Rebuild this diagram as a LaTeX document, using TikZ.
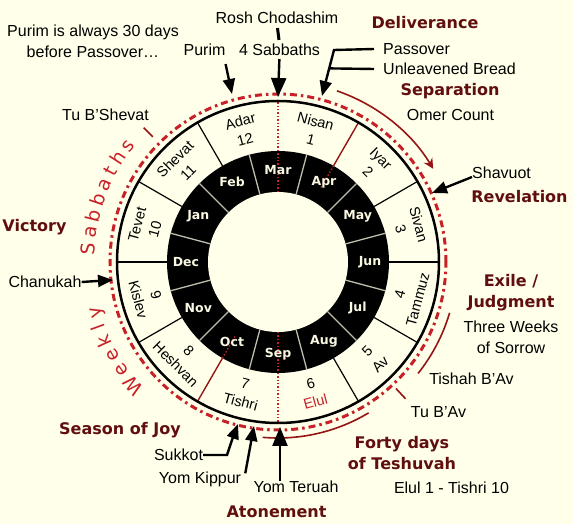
\documentclass[tikz,border=0pt]{standalone}
\usepackage{fontspec}
\setmainfont{Liberation Sans}
\newfontfamily\headfont{DejaVu Sans}
\usetikzlibrary{arrows.meta,calc}
\definecolor{bgcream}{RGB}{255,255,234}
\definecolor{titlered}{RGB}{96,14,14}
\definecolor{arcred}{RGB}{150,20,20}
\definecolor{dotred}{RGB}{200,32,40}
\definecolor{ringgray}{RGB}{190,190,175}
\definecolor{moncream}{RGB}{250,248,225}

\begin{document}
\begin{tikzpicture}[x=1pt,y=1pt,
  lbl/.style={font=\fontsize{16}{21}\selectfont,inner sep=0pt,align=center},
  ttl/.style={font=\headfont\bfseries\fontsize{16}{21}\selectfont,text=titlered,inner sep=0pt,align=center},
  hmon/.style={font=\fontsize{14.5}{18.5}\selectfont,inner sep=0pt,align=center},
  gmon/.style={font=\headfont\bfseries\fontsize{12.5}{14}\selectfont,text=moncream,inner sep=0pt},
  wk/.style={font=\headfont\fontsize{19}{19}\selectfont,text=dotred,inner sep=0pt,anchor=base},
  arr/.style={-{Triangle[length=15pt,width=12pt]},line width=2.4pt},
  bigarr/.style={-{Triangle[length=19pt,width=15pt]},line width=2.4pt},
  redarc/.style={arcred,line width=1.6pt}]

\fill[bgcream] (-278,-262) rectangle (295,262);
\useasboundingbox (-278,-262) rectangle (295,262);

% Gregorian ring
\fill[black] (0,0) circle (111);
\fill[bgcream] (0,0) circle (70);
\foreach \a in {15,45,...,345}
  \draw[ringgray,line width=1.3pt] (\a:70) -- (\a:111);

% Hebrew month ring
\foreach \a in {0,30,120,150,180,210,300,330}
  \draw[line width=1.2pt] (\a:111) -- (\a:161);
\draw[arcred,line width=1.4pt] (60:111) -- (60:161) (240:111) -- (240:161);
\draw[dotred,line width=1.4pt,dotted] (60:86) -- (60:111) (240:86) -- (240:111);
\draw[dotred,line width=1.4pt,dotted] (90:70) -- (90:161) (270:70) -- (270:161);
\draw[line width=2.5pt] (0,0) circle (161);
\draw[dotred,line width=3pt,dash pattern=on 7pt off 4pt on 2.5pt off 4pt] (0,0) circle (168);

% Month names
\foreach \a/\nm/\nr in {75/Nisan/1,45/Iyar/2,15/Sivan/3,105/Adar/12,135/Shevat/11,165/Tevet/10}
  \node[hmon,rotate=\a-90] (m\nr) at (\a:136.5) {\nm\\\nr};
\foreach \a/\nm/\nr in {-15/Tammuz/4,-45/Av/5,-105/Tishri/7,-135/Heshvan/8,-165/Kislev/9}
  \node[hmon,rotate=\a+90] (m\nr) at (\a:135.5) {\nr\\\nm};
\node[hmon,rotate=15] (m6) at (-75:135.5) {6\\\textcolor{dotred}{Elul}};

\foreach \a/\mn in {90/Mar,60/Apr,30/May,0/Jun,-30/Jul,-60/Aug,-90/Sep,
  -120/Oct,-150/Nov,180/Dec,150/Jan,120/Feb}
  \node[gmon] (g\mn) at (\a:92) {\mn};

% Weekly Sabbaths
\foreach \a/\ch [count=\i] in {220.5/W,214.6/e,209.4/e,204.4/k,200/l,195.6/y,
  176/S,171/a,166/b,161/b,156/a,151.5/t,147/h,142.3/s}
  \node[wk,rotate=\a-90] (wk\i) at (\a:184) {\ch};
\draw[redarc] (135:177) -- (135:190);

% Seasons
\draw[redarc,-{Stealth[length=10pt,width=10pt]}] (71:181) arc[start angle=71,end angle=31,radius=181];
\draw[redarc] (-16.5:179) arc[start angle=-16.5,end angle=-38.5,radius=179];
\draw[redarc] (-47:173) -- (-47:187);
\draw[redarc] (-95:176) arc[start angle=-95,end angle=-59,radius=176];

% Labels
\node[lbl] (purnote) at (-185,220.5) {Purim is always 30 days\\before Passover\dots};
\node[lbl] (rosh) at (-1,244) {Rosh Chodashim};
\node[lbl] (sab) at (1.5,212) {4 Sabbaths};
\node[lbl] (purim) at (-73.5,212) {Purim};
\node[ttl] (deliv) at (147,239) {Deliverance};
\node[lbl,anchor=west] (pass) at (105,213) {Passover};
\node[lbl,anchor=west] (unl) at (105,193) {Unleavened Bread};
\node[ttl] (sepa) at (172,171) {Separation};
\node[lbl] (omer) at (172.5,147) {Omer Count};
\node[lbl] (tubsh) at (-172.5,147) {Tu B'Shevat};
\node[lbl,anchor=west] (shav) at (194,89) {Shavuot};
\node[ttl] (revel) at (241.5,65) {Revelation};
\node[ttl] (vict) at (-243.5,35) {Victory};
\node[lbl] (chan) at (-233,-20) {Chanukah};
\node[ttl] (exile) at (233,-30.5) {Exile /\\Judgment};
\node[lbl] (three) at (233,-75.5) {Three Weeks\\of Sorrow};
\node[lbl] (tishav) at (193.5,-117) {Tishah B'Av};
\node[lbl] (tubav) at (160.5,-150) {Tu B'Av};
\node[ttl] (joy) at (-158,-168) {Season of Joy};
\node[lbl] (sukk) at (-99.5,-193) {Sukkot};
\node[lbl] (yk) at (-78,-217) {Yom Kippur};
\node[lbl] (yt) at (18,-225) {Yom Teruah};
\node[ttl] (aton) at (-1.5,-250) {Atonement};
\node[ttl] (forty) at (124,-191.5) {Forty days\\of Teshuvah};
\node[lbl] (elulrng) at (173.5,-226) {Elul 1 - Tishri 10};

% Arrows
\coordinate (sabtip) at (0,165);
\coordinate (purtip) at (-46,168);
\coordinate (passk) at (56,212);
\coordinate (passtip) at (44,166);
\coordinate (shavtip) at (154,69);
\coordinate (chantip) at (-165,-18);
\coordinate (sukktip) at (-40,-162);
\coordinate (yktip) at (-24,-164);
\coordinate (yttip) at (2,-165);

\draw[line width=3pt,shorten <=4pt,shorten >=4pt] (rosh.south) -- (sab.north);
\draw[bigarr,shorten <=3pt] (sab.south) -- (sabtip);
\draw[arr] ([yshift=-8pt]purim.south east) -- (purtip);
\draw[arr] ([xshift=-9pt]pass.west) -- (passk) -- (passtip);
\draw[line width=2.4pt] ([xshift=-9pt]unl.west) -- ($(passk)!0.4!(passtip)$);
\draw[arr] ([yshift=-4pt]shav.west) -- (shavtip);
\draw[arr] (chan.east) -- (chantip);
\draw[arr] (sukk.east) -- (-51,-193) -- (-46,-178) -- (sukktip);
\draw[arr] ([xshift=4pt,yshift=-2pt]yk.north east) -- (yktip);
\draw[bigarr] ([xshift=-16pt]yt.north) -- (yttip);
\end{tikzpicture}
\end{document}
